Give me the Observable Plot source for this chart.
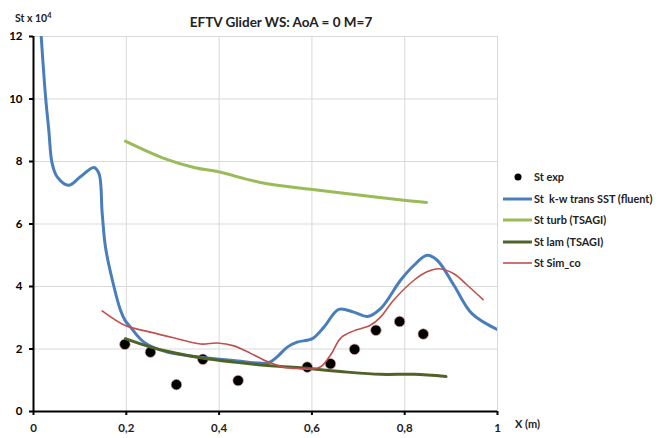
<!DOCTYPE html>
<html><head><meta charset="utf-8">
<script src="https://cdn.jsdelivr.net/npm/d3@7"></script>
<script src="https://cdn.jsdelivr.net/npm/@observablehq/plot@0.6"></script>
<style>
body{margin:0;background:#fff}
#chart{position:relative;width:664px;height:438px}
</style>
</head><body><div id="chart"></div>
<script>
// ---- data ----
const expX = [0.197, 0.252, 0.308, 0.365, 0.441, 0.590, 0.640, 0.692, 0.738, 0.789, 0.840];
const expY = [2.15, 1.90, 0.86, 1.67, 0.99, 1.42, 1.53, 1.99, 2.60, 2.88, 2.48];

const sstX = [0.0166, 0.026, 0.033, 0.040, 0.051, 0.076, 0.101, 0.130, 0.141, 0.148, 0.155, 0.170, 0.1875, 0.198, 0.209, 0.238, 0.288, 0.36, 0.431, 0.506, 0.525, 0.547, 0.568, 0.601, 0.626, 0.658, 0.690, 0.720, 0.748, 0.791, 0.820, 0.848, 0.870, 0.906, 0.945, 1.0];
const sstY = [12, 10.07, 9.0, 7.95, 7.51, 7.24, 7.51, 7.81, 7.62, 6.35, 5.27, 4.2, 3.24, 2.9, 2.7, 2.22, 1.90, 1.74, 1.63, 1.56, 1.75, 2.06, 2.22, 2.33, 2.70, 3.27, 3.18, 3.04, 3.29, 4.2, 4.68, 5.0, 4.84, 4.04, 3.13, 2.62];

const turbX = [0.198, 0.281, 0.346, 0.399, 0.489, 0.597, 0.705, 0.798, 0.847];
const turbY = [8.65, 8.10, 7.81, 7.67, 7.33, 7.11, 6.92, 6.76, 6.69];

const lamX = [0.198, 0.252, 0.288, 0.36, 0.432, 0.504, 0.575, 0.676, 0.748, 0.820, 0.889];
const lamY = [2.33, 2.06, 1.93, 1.72, 1.58, 1.47, 1.40, 1.26, 1.19, 1.19, 1.12];

const simX = [0.148, 0.198, 0.252, 0.302, 0.36, 0.396, 0.432, 0.468, 0.504, 0.539, 0.575, 0.60, 0.62, 0.642, 0.662, 0.690, 0.726, 0.748, 0.776, 0.820, 0.848, 0.874, 0.906, 0.935, 0.969];
const simY = [3.22, 2.75, 2.54, 2.36, 2.16, 2.19, 2.10, 1.86, 1.60, 1.42, 1.37, 1.36, 1.44, 1.85, 2.35, 2.58, 2.76, 3.02, 3.56, 4.2, 4.47, 4.57, 4.41, 4.04, 3.58];

const xTicks = [0, 0.2, 0.4, 0.6, 0.8, 1];
const yTicks = [0, 2, 4, 6, 8, 10, 12];

const seriesNames = ["St exp", "St  k-w trans SST (fluent)", "St turb (TSAGI)", "St lam (TSAGI)", "St Sim_co"];
const seriesColors = ["#000000", "#4a7ebb", "#9bbb59", "#4f6228", "#c0504d"];
const seriesWidths = [0, 3, 3, 3, 1.6];

const zip = (xs, ys) => xs.map((x, i) => ({x, y: ys[i]}));
const exp = zip(expX, expY), sst = zip(sstX, sstY), turb = zip(turbX, turbY), lam = zip(lamX, lamY), sim = zip(simX, simY);

const fmt = d => String(d).replace(".", ",");
const FONT = "Lato, 'Open Sans', sans-serif";

const plot = Plot.plot({
  width: 664, height: 438,
  marginLeft: 33, marginRight: 167, marginTop: 36, marginBottom: 27,
  style: {fontFamily: FONT, background: "#fff"},
  x: {domain: [0, 1]},
  y: {domain: [0, 12]},
  marks: [
    Plot.gridX(xTicks.slice(1), {stroke: "#d9d9d9", strokeOpacity: 1, strokeWidth: 1}),
    Plot.gridY(yTicks.slice(1), {stroke: "#d9d9d9", strokeOpacity: 1, strokeWidth: 1}),
    Plot.axisX(xTicks, {tickSize: 4, tickPadding: 8, tickFormat: fmt, fontSize: 11.5, fontWeight: "bold", stroke: "#000", strokeWidth: 2, color: "#222", label: null}),
    Plot.axisY(yTicks, {tickSize: 4, tickPadding: 7, tickFormat: fmt, fontSize: 11.5, fontWeight: "bold", stroke: "#000", strokeWidth: 2, label: null}),
    Plot.ruleX([0], {stroke: "#000", strokeWidth: 2}),
    Plot.ruleY([0], {stroke: "#000", strokeWidth: 2}),
    Plot.dot(exp, {x: "x", y: "y", r: 5.3, fill: "#000", stroke: "#e6a3a3", strokeWidth: 0.7}),
    Plot.line(sst, {x: "x", y: "y", stroke: seriesColors[1], strokeWidth: seriesWidths[1], curve: "catmull-rom", clip: true}),
    Plot.line(turb, {x: "x", y: "y", stroke: seriesColors[2], strokeWidth: seriesWidths[2], curve: "catmull-rom"}),
    Plot.line(lam, {x: "x", y: "y", stroke: seriesColors[3], strokeWidth: seriesWidths[3], curve: "catmull-rom"}),
    Plot.line(sim, {x: "x", y: "y", stroke: seriesColors[4], strokeWidth: seriesWidths[4], curve: "catmull-rom"})
  ]
});
document.getElementById("chart").appendChild(plot);

// ---- title, axis captions, legend ----
const svg = d3.select(plot);
svg.append("text").attr("x", 281).attr("y", 27).attr("text-anchor", "middle")
  .attr("font-family", FONT).attr("font-weight", "bold").attr("font-size", 13.5).attr("fill", "#222")
  .text("EFTV Glider WS: AoA = 0 M=7");
const yl = svg.append("text").attr("x", 15).attr("y", 22).attr("text-anchor", "start")
  .attr("font-family", FONT).attr("font-weight", "bold").attr("font-size", 10.5).attr("fill", "#222");
yl.append("tspan").text("St x 10");
yl.append("tspan").attr("dy", -4).attr("font-size", 7.5).text("4");
svg.append("text").attr("x", 515).attr("y", 428).attr("text-anchor", "start")
  .attr("font-family", FONT).attr("font-weight", "bold").attr("font-size", 11).attr("fill", "#222")
  .text("X (m)");

const rowsY = [177, 199, 220, 242, 263];
const lg = svg.append("g").attr("text-anchor", "start");
seriesNames.forEach((name, i) => {
  const g = lg.append("g").attr("transform", `translate(0,${rowsY[i]})`);
  if (i === 0) {
    g.append("circle").attr("cx", 518).attr("cy", 0).attr("r", 3.5).attr("fill", "#000");
  } else {
    g.append("line").attr("x1", 503).attr("x2", 532).attr("y1", 0).attr("y2", 0)
      .attr("stroke", seriesColors[i]).attr("stroke-width", seriesWidths[i]);
  }
  g.append("text").attr("x", 534).attr("y", 0).attr("dy", "0.35em").attr("text-anchor", "start")
    .attr("font-family", FONT).attr("font-weight", "bold").attr("font-size", 10.9).attr("fill", "#222")
    .style("white-space", "pre")
    .text(name);
});
</script>
</body></html>
